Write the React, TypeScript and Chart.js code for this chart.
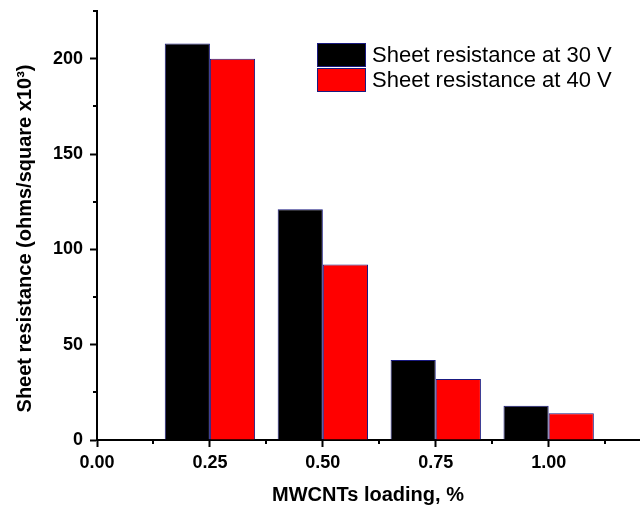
import React, { useEffect, useRef } from "react";
import { Chart, registerables } from "chart.js";

Chart.register(...registerables);

const loadings = [0.25, 0.5, 0.75, 1.0];
const sheet30V = [208, 121, 42, 18];
const sheet40V = [200, 92, 32, 14];
const seriesLabels = ["Sheet resistance at 30 V", "Sheet resistance at 40 V"];
const seriesColors = ["#000000", "#ff0000"];
const xMajorTicks = [0, 0.25, 0.5, 0.75, 1.0];
const yMajorTicks = [0, 50, 100, 150, 200];
const xMinorTicks = [0.125, 0.375, 0.625, 0.875, 1.125];
const yMinorTicks = [25, 75, 125, 175, 225];
const yTitle = "Sheet resistance (ohms/square x10³)";
const xTitle = "MWCNTs loading, %";

const FONT = "'Liberation Sans', Arial, sans-serif";

const extrasPlugin = {
  id: "extras",
  afterDraw(chart: any) {
    const { ctx, scales, chartArea } = chart;
    const x = scales.x;
    const y = scales.y;
    ctx.save();
    ctx.strokeStyle = "#000";
    ctx.lineWidth = 2;
    ctx.beginPath();
    for (const v of xMinorTicks) {
      const px = Math.round(x.getPixelForValue(v));
      ctx.moveTo(px, x.top);
      ctx.lineTo(px, x.top + 4);
    }
    for (const v of yMinorTicks) {
      const py = Math.round(y.getPixelForValue(v));
      ctx.moveTo(y.right - 4, py);
      ctx.lineTo(y.right, py);
    }
    ctx.stroke();
    // y-axis title
    ctx.translate(25, (chartArea.top + chartArea.bottom) / 2 + 13);
    ctx.rotate(-Math.PI / 2);
    ctx.fillStyle = "#000";
    ctx.font = `bold 20px ${FONT}`;
    ctx.textAlign = "center";
    ctx.textBaseline = "middle";
    ctx.fillText(yTitle, 0, 0);
    ctx.restore();
  },
};

export default function App() {
  const canvasRef = useRef<HTMLCanvasElement | null>(null);

  useEffect(() => {
    if (!canvasRef.current) return;
    const datasets = [sheet30V, sheet40V].map((vals, i) => ({
      label: seriesLabels[i],
      data: loadings.map((l, j) => ({ x: l, y: vals[j] })),
      backgroundColor: seriesColors[i],
      borderColor: "#1a1a80",
      borderWidth: 1,
      categoryPercentage: 0.8,
      barPercentage: 1.0,
    }));
    const chart = new Chart(canvasRef.current, {
      type: "bar",
      data: { datasets },
      plugins: [extrasPlugin],
      options: {
        animation: false,
        responsive: true,
        maintainAspectRatio: false,
        layout: { padding: { top: 11, right: 3, left: 0, bottom: 0 } },
        plugins: {
          legend: { display: false },
          tooltip: { enabled: false },
        },
        scales: {
          x: {
            type: "linear",
            min: 0,
            max: 1.2,
            bounds: "data",
            offset: false,
            grid: {
              offset: false,
              drawOnChartArea: false,
              drawTicks: true,
              tickLength: 7,
              tickWidth: 2,
              tickColor: "#000",
            },
            border: { display: true, color: "#000", width: 2 },
            afterBuildTicks: (s: any) => {
              s.ticks = xMajorTicks.map((v) => ({ value: v }));
            },
            ticks: {
              padding: 5,
              color: "#000",
              font: { family: FONT, size: 18, weight: "bold" },
              callback: (v: any) => Number(v).toFixed(2),
            },
            title: {
              display: true,
              text: xTitle,
              color: "#000",
              font: { family: FONT, size: 20, weight: "bold" },
              padding: { top: 0, bottom: 0 },
            },
            afterFit: (s: any) => {
              s.height = 67;
              s.paddingLeft = 0;
              s.paddingRight = 0;
            },
          },
          y: {
            type: "linear",
            min: 0,
            max: 225,
            bounds: "data",
            grid: {
              drawOnChartArea: false,
              drawTicks: true,
              tickLength: 7,
              tickWidth: 2,
              tickColor: "#000",
            },
            border: { display: true, color: "#000", width: 2 },
            afterBuildTicks: (s: any) => {
              s.ticks = yMajorTicks.map((v) => ({ value: v }));
            },
            ticks: {
              padding: 7,
              color: "#000",
              font: { family: FONT, size: 18, weight: "bold" },
            },
            title: { display: false },
            afterFit: (s: any) => {
              s.width = 97;
              s.paddingTop = 0;
              s.paddingBottom = 0;
            },
          },
        },
      },
    });
    return () => chart.destroy();
  }, []);

  const legendRow = (i: number, top: number) => (
    <div
      key={i}
      style={{
        position: "absolute",
        left: 317,
        top,
        height: 24,
        display: "flex",
        alignItems: "center",
        whiteSpace: "nowrap",
      }}
    >
      <div
        style={{
          width: 47,
          height: 22,
          background: seriesColors[i],
          border: "1px solid #1a1a80",
        }}
      />
      <span
        style={{
          marginLeft: 6,
          fontFamily: FONT,
          fontSize: 22,
          color: "#000",
          lineHeight: "24px",
        }}
      >
        {seriesLabels[i]}
      </span>
    </div>
  );

  return (
    <div
      style={{
        position: "fixed",
        left: 0,
        top: 0,
        width: 642,
        height: 507,
        background: "#fff",
      }}
    >
      <canvas ref={canvasRef} />
      {legendRow(0, 43)}
      {legendRow(1, 68)}
    </div>
  );
}
